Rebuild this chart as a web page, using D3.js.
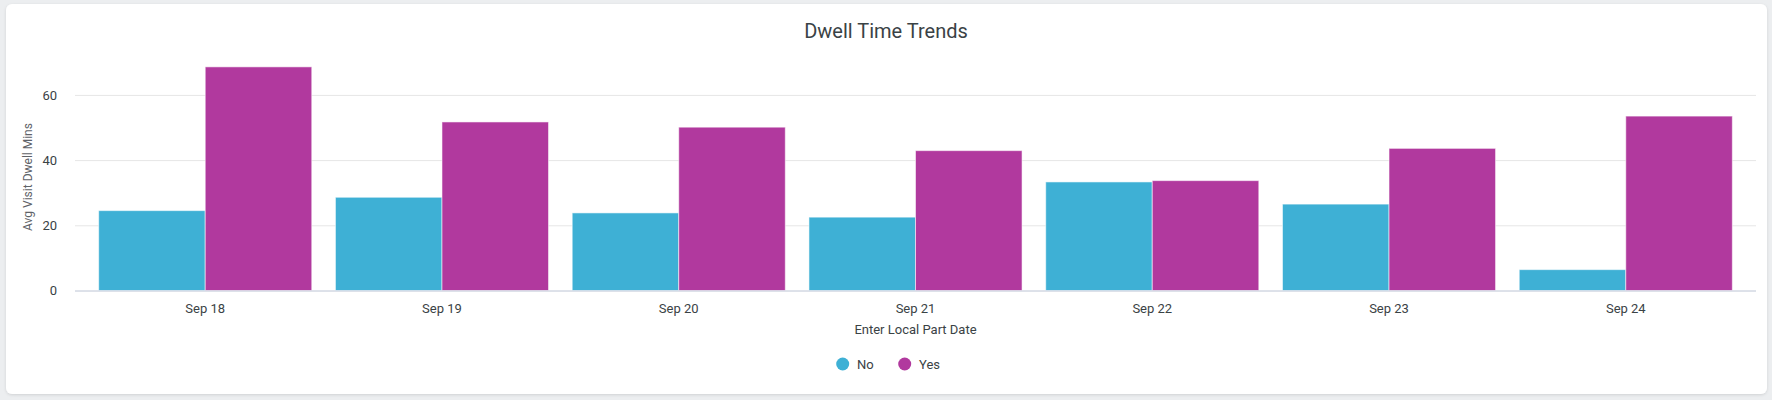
<!DOCTYPE html>
<html>
<head>
<meta charset="utf-8">
<script src="https://cdn.jsdelivr.net/npm/d3@7"></script>
<style>
  html, body { margin: 0; padding: 0; background: #eceef0; }
  body { width: 1772px; height: 400px; overflow: hidden; font-family: Roboto, "Noto Sans", sans-serif; }
</style>
</head>
<body>
<svg id="chart" width="1772" height="400"></svg>
<script>
const categories = ["Sep 18", "Sep 19", "Sep 20", "Sep 21", "Sep 22", "Sep 23", "Sep 24"];
const seriesNames = ["No", "Yes"];
const noValues  = [24.5, 28.6, 23.8, 22.5, 33.3, 26.5, 6.4];
const yesValues = [68.6, 51.7, 50.1, 42.9, 33.7, 43.6, 53.5];
const yTicks = [0, 20, 40, 60];
const colors = ["#3eb0d5", "#b1399e"];
const title = "Dwell Time Trends";
const xTitle = "Enter Local Part Date";
const yTitle = "Avg Visit Dwell Mins";

const svg = d3.select("#chart");

// shadow + card
const defs = svg.append("defs");
const f = defs.append("filter").attr("id", "sh").attr("x", "-5%").attr("y", "-10%").attr("width", "110%").attr("height", "130%");
f.append("feDropShadow").attr("dx", 0).attr("dy", 1).attr("stdDeviation", 1.5).attr("flood-color", "#000").attr("flood-opacity", 0.12);
svg.append("rect").attr("x", 6).attr("y", 4).attr("width", 1761).attr("height", 390)
  .attr("rx", 6).attr("fill", "#fff").attr("filter", "url(#sh)");

const plotLeft = 75, plotRight = 1756, baseY = 290.5, pxPerUnit = 3.26;
const yMax = 70;

const x = d3.scaleBand().domain(categories).range([plotLeft, plotRight]).paddingInner(0.1).paddingOuter(0.1);
const xs = d3.scaleBand().domain(seriesNames).range([0, x.bandwidth()]).padding(0);
const y = d3.scaleLinear().domain([0, yMax]).range([baseY, baseY - pxPerUnit * yMax]);

// gridlines
const yAxis = d3.axisLeft(y).tickValues(yTicks).tickSize(-(plotRight - plotLeft)).tickPadding(18).tickFormat(d3.format("d"));
const gy = svg.append("g").attr("transform", `translate(${plotLeft},0)`).call(yAxis);
gy.select(".domain").remove();
gy.selectAll(".tick line").attr("stroke", "#e6e6e6").attr("stroke-width", 1);
gy.selectAll(".tick text").attr("fill", "#3a4245").attr("font-size", 13).attr("font-family", "Roboto").attr("x", -18);

// bars
const data = categories.map((c, i) => ({ cat: c, vals: [ {s: "No", v: noValues[i]}, {s: "Yes", v: yesValues[i]} ] }));
const groups = svg.append("g").selectAll("g").data(data).join("g")
  .attr("transform", d => `translate(${x(d.cat)},0)`);
groups.selectAll("rect").data(d => d.vals).join("rect")
  .attr("x", d => xs(d.s))
  .attr("width", xs.bandwidth())
  .attr("y", d => y(d.v))
  .attr("height", d => y(0) - y(d.v))
  .attr("fill", (d, i) => colors[i])
  .attr("stroke", "#ffffff").attr("stroke-opacity", 0.55).attr("stroke-width", 1);

// x axis
const xAxis = d3.axisBottom(x).tickSize(0).tickPadding(13);
const gx = svg.append("g").attr("transform", `translate(0,${baseY})`).call(xAxis);
gx.select(".domain").attr("stroke", "#c8d0e0").attr("stroke-width", 1)
  .attr("d", `M${plotLeft},0.5H${plotRight}`);
gx.selectAll(".tick text").attr("fill", "#3a4245").attr("font-size", 13).attr("font-family", "Roboto");

// titles
svg.append("text").attr("x", 886).attr("y", 38).attr("text-anchor", "middle")
  .attr("font-size", 20).attr("fill", "#3a4245").attr("font-family", "Roboto").text(title);
svg.append("text").attr("x", (plotLeft + plotRight) / 2).attr("y", 334).attr("text-anchor", "middle")
  .attr("font-size", 13).attr("fill", "#3a4245").attr("font-family", "Roboto").text(xTitle);
svg.append("text").attr("transform", `translate(31.5,177) rotate(-90)`).attr("text-anchor", "middle")
  .attr("font-size", 12).attr("fill", "#5f6368").attr("font-family", "Roboto").text(yTitle);

// legend
const legendItems = [ {name: "No", cx: 842.7, tx: 857}, {name: "Yes", cx: 904.7, tx: 919} ];
const lg = svg.append("g");
legendItems.forEach((d, i) => {
  lg.append("circle").attr("cx", d.cx).attr("cy", 364).attr("r", 6.5).attr("fill", colors[i]);
  lg.append("text").attr("x", d.tx).attr("y", 368.5).attr("font-size", 13).attr("fill", "#3a4245")
    .attr("font-family", "Roboto").text(d.name);
});
</script>
</body>
</html>
